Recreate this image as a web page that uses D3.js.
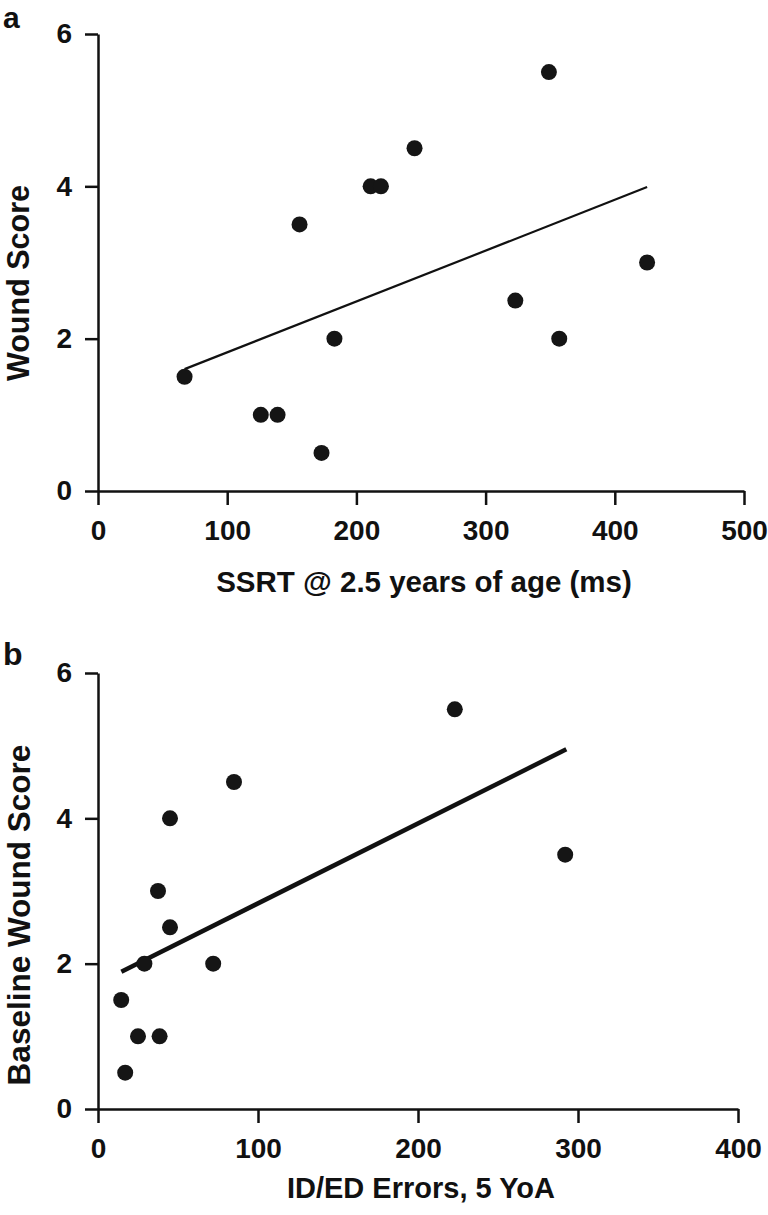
<!DOCTYPE html>
<html>
<head>
<meta charset="utf-8">
<script src="https://cdn.jsdelivr.net/npm/d3@7"></script>
<style>
  html, body { margin: 0; padding: 0; background: #fff; }
  svg { display: block; }
  text { font-family: "Liberation Sans", Arial, Helvetica, sans-serif; font-weight: bold; fill: #111; }
</style>
</head>
<body>
<svg id="chart" width="768" height="1215"></svg>
<script>
// ---- Panel a data ----
const ssrtMs      = [67, 126, 139, 173, 183, 156, 211, 219, 245, 323, 349, 357, 425];
const woundScoreA = [1.5, 1, 1, 0.5, 2, 3.5, 4, 4, 4.5, 2.5, 5.5, 2, 3];
const fitAX = [67, 425];
const fitAY = [1.60, 3.99];
const xTicksA = [0, 100, 200, 300, 400, 500];
const yTicksA = [0, 2, 4, 6];

// ---- Panel b data ----
const idedErrors  = [85, 45, 37.5, 45, 29, 72, 14.5, 25, 38.5, 17, 223, 292];
const woundScoreB = [4.5, 4, 3, 2.5, 2, 2, 1.5, 1, 1, 0.5, 5.5, 3.5];
const fitBX = [14.6, 292.7];
const fitBY = [1.89, 4.95];
const xTicksB = [0, 100, 200, 300, 400];
const yTicksB = [0, 2, 4, 6];

const svg = d3.select("#chart");

function panel(cfg) {
  const g = svg.append("g");
  const x = d3.scaleLinear().domain(cfg.xDomain).range([cfg.left, cfg.right]);
  const y = d3.scaleLinear().domain(cfg.yDomain).range([cfg.bottom, cfg.top]);

  const xAxis = g.append("g").attr("transform", `translate(0,${cfg.bottom})`)
    .call(d3.axisBottom(x).tickValues(cfg.xTicks).tickSize(14).tickPadding(15).tickSizeOuter(0).tickFormat(d3.format("d")));
  const yAxis = g.append("g").attr("transform", `translate(${cfg.left},0)`)
    .call(d3.axisLeft(y).tickValues(cfg.yTicks).tickSize(13).tickPadding(13).tickSizeOuter(0).tickFormat(d3.format("d")));
  [xAxis, yAxis].forEach(a => {
    a.select(".domain").attr("stroke", "#111").attr("stroke-width", 2.5);
    a.selectAll(".tick line").attr("stroke", "#111").attr("stroke-width", 2.5);
    a.selectAll(".tick text").attr("font-size", 28).attr("fill", "#111")
      .attr("font-family", "Liberation Sans, Arial, sans-serif").attr("font-weight", "bold");
  });

  // fit line
  g.append("path")
    .datum(cfg.fitX.map((v, i) => [v, cfg.fitY[i]]))
    .attr("d", d3.line().x(d => x(d[0])).y(d => y(d[1])))
    .attr("fill", "none").attr("stroke", "#111").attr("stroke-width", cfg.fitWidth);

  // points
  g.selectAll("circle.pt").data(cfg.xs.map((v, i) => [v, cfg.ys[i]]))
    .enter().append("circle").attr("class", "pt")
    .attr("cx", d => x(d[0])).attr("cy", d => y(d[1]))
    .attr("r", 8).attr("fill", "#151515");

  // titles
  g.append("text").attr("x", (cfg.left + cfg.right) / 2 + 3).attr("y", cfg.xTitleY)
    .attr("text-anchor", "middle").attr("font-size", cfg.xTitleSize).text(cfg.xTitle);
  g.append("text")
    .attr("transform", `translate(${cfg.yTitleX},${cfg.yTitleCY}) rotate(-90)`)
    .attr("text-anchor", "middle").attr("font-size", cfg.yTitleSize).text(cfg.yTitle);
  g.append("text").attr("x", cfg.labelX).attr("y", cfg.labelY)
    .attr("font-size", cfg.labelSize).text(cfg.label);
}

panel({
  xDomain: [0, 500], yDomain: [0, 6], left: 98, right: 744, top: 34, bottom: 491,
  xTicks: xTicksA, yTicks: yTicksA, xs: ssrtMs, ys: woundScoreA,
  fitX: fitAX, fitY: fitAY, fitWidth: 2.2,
  xTitle: "SSRT @ 2.5 years of age (ms)", xTitleY: 592, xTitleSize: 29.5,
  yTitle: "Wound Score", yTitleX: 29, yTitleCY: 283, yTitleSize: 30.5,
  label: "a", labelX: 3, labelY: 28, labelSize: 30
});

panel({
  xDomain: [0, 400], yDomain: [0, 6], left: 98, right: 738, top: 673, bottom: 1109,
  xTicks: xTicksB, yTicks: yTicksB, xs: idedErrors, ys: woundScoreB,
  fitX: fitBX, fitY: fitBY, fitWidth: 4.5,
  xTitle: "ID/ED Errors, 5 YoA", xTitleY: 1198, xTitleSize: 29,
  yTitle: "Baseline Wound Score", yTitleX: 30, yTitleCY: 915, yTitleSize: 31.5,
  label: "b", labelX: 3, labelY: 665, labelSize: 32
});
</script>
</body>
</html>
